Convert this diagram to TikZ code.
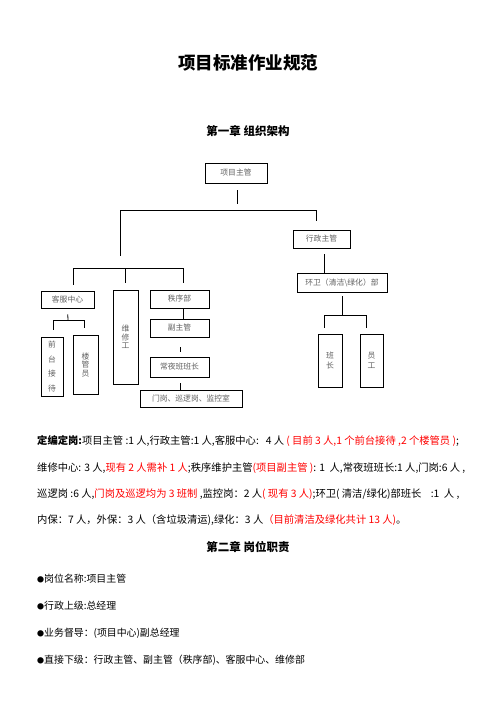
\documentclass[tikz,border=0pt]{standalone}
\usepackage{fontspec}
\setmainfont{Noto Sans CJK SC}
\usetikzlibrary{calc}
\newcommand{\smallbul}{{\fontsize{7}{8}\selectfont ●}}
\tikzset{
  box/.style={draw, line width=0.8pt, inner sep=0pt, align=center, text=black!62,
    font=\fontsize{7.8}{9}\selectfont},
  vbox/.style={box, font=\fontsize{7.8}{#1}\selectfont},
  conn/.style={line width=0.8pt},
  body/.style={anchor=base west, inner sep=0pt, font=\fontsize{10.3}{12}\selectfont},
  bullet/.style={anchor=base west, inner sep=0pt, font=\fontsize{9.9}{12}\selectfont},
  heading/.style={inner sep=0pt, font=\fontsize{11.5}{13}\selectfont\bfseries},
}
\begin{document}
\begin{tikzpicture}[x=1pt,y=-1pt]
\fill[white] (0,0) rectangle (496,702);
\useasboundingbox (0,0) rectangle (496,702);

% titles
\node[inner sep=0pt, font=\fontsize{17.5}{20}\selectfont\bfseries] (title) at (248,63) {项目标准作业规范};
\node[heading] (ch1) at (248,131) {第一章\ 组织架构};

% org chart boxes
\node[box, minimum width=62pt, minimum height=20pt] (top) at (236,173) {项目主管};
\node[box, minimum width=57pt, minimum height=18pt] (xz) at (321.5,239) {行政主管};
\node[box, minimum width=90pt, minimum height=19pt] (hw) at (342,282.5) {环卫（清洁\textbackslash 绿化）部};
\node[vbox=10, minimum width=24pt, minimum height=53pt] (bz) at (330,360.5) {班\\长};
\node[vbox=10, minimum width=23pt, minimum height=53pt] (yg) at (371.5,360.5) {员\\工};
\node[box, minimum width=53pt, minimum height=17pt] (kf) at (67.5,299.5) {客服中心};
\node[vbox=14.5, minimum width=22pt, minimum height=59pt] (qt) at (52,366.5) {前\\台\\接\\待};
\node[vbox=8.5, minimum width=25pt, minimum height=59pt] (lg) at (85.5,365) {楼\\管\\员};
\node[vbox=8.5, minimum width=25pt, minimum height=94pt] (wx) at (125.5,337) {维\\修\\工};
\node[box, minimum width=59pt, minimum height=18pt] (zx) at (179.5,299) {秩序部};
\node[box, minimum width=59pt, minimum height=18pt] (fz) at (179.5,328) {副主管};
\node[box, minimum width=59pt, minimum height=20pt] (cy) at (179.5,367) {常夜班班长};
\node[box, minimum width=102pt, minimum height=17pt] (mg) at (191,398.5) {门岗、巡逻岗、监控室};

% junction coordinates
\coordinate (a1) at (237,190);
\coordinate (a2) at (237,204);
\coordinate (hL) at (120,210);
\coordinate (hR) at (316,210);
\coordinate (hLd) at (120,256);
\coordinate (m1) at (73,268);
\coordinate (m2) at (125,268);
\coordinate (m3) at (183,268);
\coordinate (k1) at (68,320);
\coordinate (kL) at (53,320);
\coordinate (kR) at (84,320);
\coordinate (w1) at (342,315);
\coordinate (wL) at (324,315);
\coordinate (wR) at (366,315);
\coordinate (xzs) at ($(xz.south)+(2.5,0)$);
\coordinate (zxs) at ($(zx.south)+(3.5,0)$);
\coordinate (fzs) at ($(fz.south)+(0.5,0)$);
\coordinate (cys) at ($(cy.south)+(0.5,0)$);

% connectors
\draw[conn] (a1) -- (a2);
\draw[conn] (hL) -- (hR);
\draw[conn, shorten >=9pt] (hR) -- (hR |- xz.north);
\draw[conn] (hL) -- (hLd);
\draw[conn] (m1) -- (m3);
\draw[conn, shorten >=6pt] (m1) -- (m1 |- kf.north);
\draw[conn, shorten >=7pt] (m2) -- (m2 |- wx.north);
\draw[conn, shorten >=7pt] (m3) -- (m3 |- zx.north);
\draw[conn, shorten <=6pt] (xzs) -- (xzs |- hw.north);
\draw[conn, shorten <=4pt] (hw.south) -- (w1);
\draw[conn] (wL) -- (wR);
\draw[conn, shorten >=6pt] (wL) -- (wL |- bz.north);
\draw[conn, shorten >=6pt] (wR) -- (wR |- yg.north);
\draw[conn, shorten <=6pt] (kf.south) -- (k1);
\draw[conn] (kL) -- (kR);
\draw[conn, shorten >=7pt] (kL) -- (kL |- qt.north);
\draw[conn, shorten >=7pt] (kR) -- (kR |- lg.north);
\draw[conn] (zxs) -- (zxs |- fz.north);
\draw[conn, shorten <=10pt, shorten >=5pt] (fzs) -- (fzs |- cy.north);
\draw[conn, shorten <=6pt] (cys) -- (cys |- mg.north);

% body text
\node[body] (l1) at (37,444) {\textbf{定编定岗:}项目主管 :1 人,行政主管:1 人,客服中心:\ \ \ 4 人 {\color{red}( 目前 3 人,1 个前台接待 ,2 个楼管员 )};};
\node[body] (l2) at (37,471) {维修中心: 3 人,{\color{red}现有 2 人需补 1 人};秩序维护主管{\color{red}(项目副主管 )}: 1\ \ 人,常夜班班长:1 人,门岗:6 人 ,};
\node[body] (l3) at (37,497) {巡逻岗 :6 人,{\color{red}门岗及巡逻均为 3 班制} ,监控岗：2 人{\color{red}( 现有 3 人)};环卫( 清洁/绿化)部班长\ \ \ \ :1\ \ 人 ,};
\node[body] (l4) at (37,523) {内保：7 人，外保：3 人（含垃圾清运),绿化：3 人{\color{red}（目前清洁及绿化共计 13 人)}。};

\node[heading] (ch2) at (248,547) {第二章\ 岗位职责};

\node[bullet] (b1) at (37,582) {\smallbul 岗位名称:项目主管};
\node[bullet] (b2) at (37,609) {\smallbul 行政上级:总经理};
\node[bullet] (b3) at (37,636) {\smallbul 业务督导：(项目中心)副总经理};
\node[bullet] (b4) at (37,663) {\smallbul 直接下级：行政主管、副主管（秩序部)、客服中心、维修部};
\end{tikzpicture}
\end{document}
